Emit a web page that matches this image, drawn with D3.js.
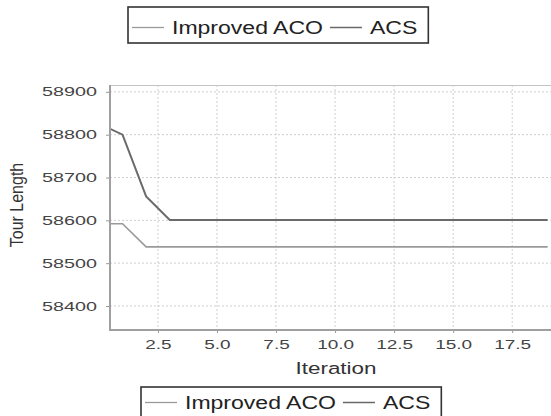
<!DOCTYPE html>
<html>
<head>
<meta charset="utf-8">
<script src="https://cdn.jsdelivr.net/npm/d3@7"></script>
<style>
  body { margin: 0; background: #fff; }
  svg { display: block; font-family: "Liberation Sans", Arial, sans-serif; }
</style>
</head>
<body>
<div class="wrapper"></div>
<script>
const seriesNames = ['Improved ACO', 'ACS']
const iterations = [0, 1, 2, 3, 4, 5, 6, 7, 8, 9, 10, 11, 12, 13, 14, 15, 16, 17, 18, 19]
const acoValues = [58592, 58592, 58538, 58538, 58538, 58538, 58538, 58538, 58538, 58538,
  58538, 58538, 58538, 58538, 58538, 58538, 58538, 58538, 58538, 58538]
const acsValues = [58826, 58800, 58656, 58601, 58601, 58601, 58601, 58601, 58601, 58601,
  58601, 58601, 58601, 58601, 58601, 58601, 58601, 58601, 58601, 58601]
const xTicks = [2.5, 5.0, 7.5, 10.0, 12.5, 15.0, 17.5]
const yTicks = [58400, 58500, 58600, 58700, 58800, 58900]

const width = 551, height = 416
const plot = { left: 110, right: 551, top: 85, bottom: 330 }

const colors = { 'Improved ACO': '#9a9a9a', 'ACS': '#6a6a6a' }

const svg = d3.select('.wrapper')
  .append('svg')
  .attr('width', width)
  .attr('height', height)

const x = d3.scaleLinear().domain([0.47, 19.1]).range([plot.left, plot.right - 1])
const y = d3.scaleLinear().domain([58344, 58916]).range([plot.bottom, plot.top])

// grid
svg.append('g')
  .selectAll('line')
  .data(yTicks)
  .join('line')
  .attr('x1', plot.left).attr('x2', plot.right)
  .attr('y1', d => y(d)).attr('y2', d => y(d))
  .attr('stroke', '#cfcfcf')
  .attr('stroke-dasharray', '2,2')

svg.append('g')
  .selectAll('line')
  .data(xTicks)
  .join('line')
  .attr('x1', d => x(d)).attr('x2', d => x(d))
  .attr('y1', plot.top).attr('y2', plot.bottom)
  .attr('stroke', '#cfcfcf')
  .attr('stroke-dasharray', '2,2')

// top border
svg.append('line')
  .attr('x1', plot.left).attr('x2', plot.right)
  .attr('y1', plot.top + 0.5).attr('y2', plot.top + 0.5)
  .attr('stroke', '#c4c4c4')

// axes
const yAxis = svg.append('g')
  .attr('transform', `translate(${plot.left}, 0)`)
  .call(d3.axisLeft(y).tickValues(yTicks).tickSize(4).tickPadding(13).tickFormat(d3.format('d')))
yAxis.select('.domain').remove()
yAxis.selectAll('line').attr('stroke', '#999')
yAxis.selectAll('text')
  .attr('font-size', 12.5)
  .attr('fill', '#444')
  .attr('x', -13 / 1.58)
  .attr('transform', 'scale(1.58,1)')

const xAxis = svg.append('g')
  .attr('transform', `translate(0, ${plot.bottom})`)
  .call(d3.axisBottom(x).tickValues(xTicks).tickSize(3).tickPadding(7).tickFormat(d3.format('.1f')))
xAxis.select('.domain').remove()
xAxis.selectAll('line').attr('stroke', '#999')
xAxis.selectAll('text')
  .attr('font-size', 13)
  .attr('fill', '#444')
  .attr('transform', 'scale(1.46,1)')

svg.append('line')
  .attr('x1', plot.left).attr('x2', plot.left)
  .attr('y1', plot.top).attr('y2', plot.bottom + 1)
  .attr('stroke', '#a0a0a0')
  .attr('stroke-width', 2)

svg.append('line')
  .attr('x1', plot.left).attr('x2', plot.right)
  .attr('y1', plot.bottom).attr('y2', plot.bottom)
  .attr('stroke', '#a0a0a0')
  .attr('stroke-width', 2)

// series
svg.append('clipPath')
  .attr('id', 'plot-clip')
  .append('rect')
  .attr('x', plot.left + 1).attr('y', plot.top)
  .attr('width', plot.right - plot.left).attr('height', plot.bottom - plot.top)

const line = d3.line()
  .x(d => x(d.iter))
  .y(d => y(d.value))

const series = [
  { name: 'Improved ACO', values: acoValues, width: 1.6 },
  { name: 'ACS', values: acsValues, width: 2 },
]

svg.append('g')
  .attr('clip-path', 'url(#plot-clip)')
  .selectAll('path')
  .data(series)
  .join('path')
  .attr('fill', 'none')
  .attr('stroke', d => colors[d.name])
  .attr('stroke-width', d => d.width)
  .attr('d', d => line(d.values.map((v, i) => ({ iter: iterations[i], value: v }))))

// axis titles
svg.append('text')
  .attr('transform', 'translate(336, 374) scale(1.32,1)')
  .attr('text-anchor', 'middle')
  .attr('font-size', 17)
  .attr('fill', '#333')
  .text('Iteration')

svg.append('text')
  .attr('transform', 'translate(23, 205) scale(1.12,1) rotate(-90)')
  .attr('text-anchor', 'middle')
  .attr('font-size', 16)
  .attr('fill', '#333')
  .text('Tour Length')

// legends
drawLegend(128, 7, 34)
drawLegend(141, 387, 409)

// helper functions
function drawLegend(bx, by, baseline) {
  const sx = 1.28
  const g = svg.append('g')
  const box = g.append('rect')
    .attr('x', bx).attr('y', by)
    .attr('height', 36)
    .attr('fill', '#fff')
    .attr('stroke', '#333')
    .attr('stroke-width', 1.6)
  let cx = bx + 4
  seriesNames.forEach(name => {
    g.append('line')
      .attr('x1', cx).attr('x2', cx + 32)
      .attr('y1', baseline - 6.5).attr('y2', baseline - 6.5)
      .attr('stroke', colors[name])
      .attr('stroke-width', 1.3)
    cx += 40
    const t = g.append('text')
      .attr('transform', `translate(${cx}, ${baseline}) scale(${sx},1)`)
      .attr('font-size', 18)
      .attr('fill', '#222')
      .text(name)
    cx += t.node().getComputedTextLength() * sx + 7
  })
  box.attr('width', cx - bx + 4)
}
</script>
</body>
</html>
